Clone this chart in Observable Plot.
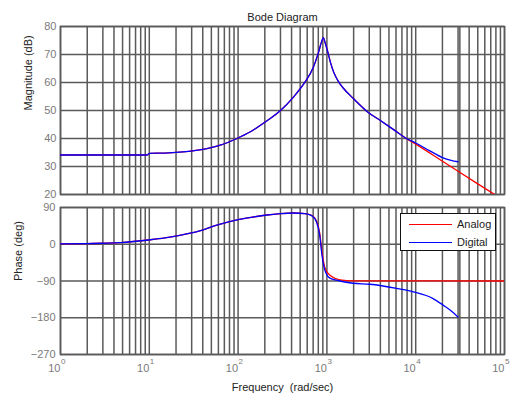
<!DOCTYPE html>
<html>
<head>
<meta charset="utf-8">
<script src="https://cdn.jsdelivr.net/npm/d3@7"></script>
<script src="https://cdn.jsdelivr.net/npm/@observablehq/plot@0.6"></script>
<style>
  body { margin: 0; background: white; }
  #wrap { position: relative; width: 511px; height: 401px; background: white; font-family: "Liberation Sans", Arial, sans-serif; }
  #wrap > .plot { position: absolute; left: 0; }
  #legend { position: absolute; left: 400px; top: 213px; width: 96px; height: 38px; border: 1.5px solid #111; background: white; box-sizing: border-box; }
  .lg { position: absolute; left: 8px; height: 14px; font-size: 11px; color: #222; }
  .lg .sw { position: absolute; left: 0; top: 7px; width: 43px; height: 0; border-top: 1.3px solid; }
  .lg .lb { position: absolute; left: 48px; top: 0; line-height: 14px; white-space: nowrap; }
</style>
</head>
<body>
<div id="wrap"></div>
<script>
// ---------- data ----------
const title = "Bode Diagram";
const magLabel = "Magnitude (dB)";
const phaseLabel = "Phase (deg)";
const freqLabel = "Frequency  (rad/sec)";
const seriesNames = ["Analog", "Digital"];
const seriesColors = ["#ff0000", "#0000ff"];

const decades = [1, 10, 100, 1000, 10000];
const minorSteps = [1, 2, 3, 4, 5, 6, 7, 8, 9];
const decadeTicks = [1, 10, 100, 1000, 10000, 100000];
const decadeExponents = ["0", "1", "2", "3", "4", "5"];
const magTicks = [20, 30, 40, 50, 60, 70, 80];
const phaseTicks = [90, 0, -90, -180, -270];
const nyquist = [31416];

// Magnitude (dB)
const magFreqAnalog = [1, 2, 5, 9.5, 10, 15, 22, 37, 63, 97, 136, 200, 300, 420, 565, 700, 800, 870, 910, 960, 1025, 1100, 1200, 1350, 1500, 2000, 2900, 4000, 5800, 7900, 10000, 20000, 30000, 50000, 100000];
const magAnalog     = [34.1, 34.1, 34.1, 34.1, 34.7, 34.8, 35.1, 35.9, 37.6, 40.0, 42.3, 45.8, 50.0, 54.8, 60.1, 65.3, 70.5, 74.5, 76.0, 74.0, 70.8, 67.0, 63.5, 60.3, 58.3, 54.2, 49.4, 46.4, 42.9, 39.9, 38.0, 31.9, 28.3, 23.8, 17.8];
const magFreqDigital = [1, 2, 5, 9.5, 10, 15, 22, 37, 63, 97, 136, 200, 300, 420, 565, 700, 800, 870, 910, 960, 1025, 1100, 1200, 1350, 1500, 2000, 2900, 4000, 5800, 7900, 10000, 14400, 20000, 25000, 30000];
const magDigital     = [34.1, 34.1, 34.1, 34.1, 34.7, 34.8, 35.1, 35.9, 37.6, 40.0, 42.3, 45.8, 50.0, 54.8, 60.1, 65.3, 70.5, 74.5, 76.0, 74.0, 70.8, 67.0, 63.5, 60.3, 58.3, 54.2, 49.4, 46.4, 42.9, 40.0, 38.4, 35.6, 33.2, 32.2, 31.7];

// Phase (deg)
const phaseFreqAnalog = [1, 2, 3, 4.7, 10.3, 15, 22, 29, 37, 55, 92, 140, 200, 300, 420, 565, 673, 764, 830, 880, 950, 1110, 1400, 2000, 100000];
const phaseAnalog     = [0.7, 1.5, 2.5, 4, 11, 15.5, 21.5, 27, 33, 45.5, 58.5, 66, 71, 75, 76.5, 75, 71, 57, 27, -18, -58, -78, -87, -89.5, -90];
const phaseFreqDigital = [1, 2, 3, 4.7, 10.3, 15, 22, 29, 37, 55, 92, 140, 200, 300, 420, 565, 673, 764, 830, 880, 950, 1080, 1400, 1970, 3040, 6090, 9400, 15700, 20300, 25000, 29900];
const phaseDigital     = [0.7, 1.5, 2.5, 4, 11, 15.5, 21.5, 27, 33, 45.5, 58.5, 66, 71, 75, 76.5, 75, 70, 54.5, 22, -27, -63.6, -83, -90, -95.5, -98, -108, -116.5, -133, -149, -163, -178];

// ---------- build ----------
const gridFreqs = decades.flatMap(d => minorSteps.map(m => m * d)).concat([100000]);
const toRows = (fs, vs, s) => fs.map((f, i) => ({f, v: vs[i], s}));
const magRows = [...toRows(magFreqAnalog, magAnalog, seriesNames[0]), ...toRows(magFreqDigital, magDigital, seriesNames[1])];
const phaseRows = [...toRows(phaseFreqAnalog, phaseAnalog, seriesNames[0]), ...toRows(phaseFreqDigital, phaseDigital, seriesNames[1])];

const W = 511;
const gridColor = "#5a5a5a";
const tickColor = "#7a7a7a";
const textColor = "#222";
const style = {fontFamily: "'Liberation Sans', Arial, sans-serif", fontSize: "11px", background: "transparent", overflow: "visible"};
const xScale = {type: "log", domain: [1, 100000]};
const colorScale = {domain: seriesNames, range: seriesColors};

const magPlot = Plot.plot({
  width: W, height: 200,
  marginLeft: 60, marginRight: 7, marginTop: 26, marginBottom: 6,
  style,
  x: {...xScale, axis: null},
  y: {domain: [20, 80], axis: null},
  color: colorScale,
  marks: [
    Plot.ruleX(gridFreqs, {stroke: gridColor, strokeWidth: 1.5}),
    Plot.ruleY(magTicks, {stroke: gridColor, strokeWidth: 1.5}),
    Plot.ruleX(nyquist, {stroke: gridColor, strokeWidth: 1.5}),
    Plot.frame({stroke: gridColor, strokeWidth: 1.6}),
    Plot.axisY({ticks: magTicks, tickSize: 0, tickPadding: 4, label: null, color: tickColor, fontSize: 11}),
    Plot.line(magRows, {x: "f", y: "v", stroke: "s", z: "s", strokeWidth: 1.3, curve: "monotone-x", clip: true}),
    Plot.text([title], {frameAnchor: "top", text: d => d, dy: -13, fill: textColor, fontSize: 11}),
    Plot.text([magLabel], {frameAnchor: "left", text: d => d, rotate: -90, dx: -32, fill: textColor, fontSize: 11})
  ]
});

const phasePlot = Plot.plot({
  width: W, height: 201,
  marginLeft: 60, marginRight: 7, marginTop: 7, marginBottom: 47,
  style,
  x: {...xScale, axis: null},
  y: {domain: [-270, 90], axis: null},
  color: colorScale,
  marks: [
    Plot.ruleX(gridFreqs, {stroke: gridColor, strokeWidth: 1.5}),
    Plot.ruleY(phaseTicks, {stroke: gridColor, strokeWidth: 1.5}),
    Plot.ruleX(nyquist, {stroke: gridColor, strokeWidth: 1.5}),
    Plot.frame({stroke: gridColor, strokeWidth: 1.6}),
    Plot.axisY({ticks: phaseTicks, tickSize: 0, tickPadding: 5, label: null, color: tickColor, fontSize: 11}),
    Plot.line(phaseRows, {x: "f", y: "v", stroke: "s", z: "s", strokeWidth: 1.3, curve: "monotone-x", clip: true}),
    Plot.text(decadeTicks, {x: d => d, frameAnchor: "bottom", text: () => "10", textAnchor: "end", dy: 17, fill: tickColor, fontSize: 11}),
    Plot.text(decadeTicks, {x: d => d, frameAnchor: "bottom", text: (d, i) => decadeExponents[i], textAnchor: "start", dx: 0.5, dy: 9, fill: tickColor, fontSize: 8}),
    Plot.text([freqLabel], {frameAnchor: "bottom", text: d => d, dy: 36, fill: textColor, fontSize: 11}),
    Plot.text([phaseLabel], {frameAnchor: "left", text: d => d, rotate: -90, dx: -42, fill: textColor, fontSize: 11})
  ]
});

const wrap = document.getElementById("wrap");
magPlot.classList.add("plot"); magPlot.style.top = "0px";
phasePlot.classList.add("plot"); phasePlot.style.top = "200px";
wrap.appendChild(magPlot);
wrap.appendChild(phasePlot);

// legend
const legend = document.createElement("div");
legend.id = "legend";
seriesNames.forEach((name, i) => {
  const row = document.createElement("div");
  row.className = "lg";
  row.style.top = (3 + i * 17.5) + "px";
  const sw = document.createElement("div");
  sw.className = "sw";
  sw.style.borderTopColor = seriesColors[i];
  const lb = document.createElement("div");
  lb.className = "lb";
  lb.textContent = name;
  row.appendChild(sw); row.appendChild(lb);
  legend.appendChild(row);
});
wrap.appendChild(legend);
</script>
</body>
</html>
